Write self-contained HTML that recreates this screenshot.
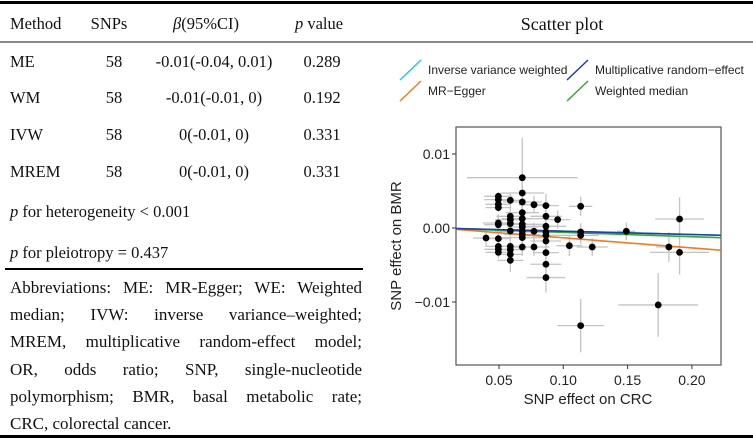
<!DOCTYPE html>
<html><head><meta charset="utf-8"><style>
body{margin:0;width:753px;height:439px;background:#fff;overflow:hidden;position:relative;font-family:"Liberation Serif",serif;}
.t{position:absolute;font-size:16.5px;color:#111;white-space:nowrap;line-height:1;}
.c{transform:translateX(-50%);}
.abbr{position:absolute;left:10px;width:352px;top:274px;font-size:17px;line-height:27.2px;color:#111;}
.abbr div{text-align:justify;text-align-last:justify;white-space:nowrap;}
.abbr div.last{text-align-last:left;}
</style></head><body>
<div style="position:absolute;left:0;top:1px;width:753px;height:3px;background:#000"></div>
<div style="position:absolute;left:0;top:41px;width:753px;height:2px;background:#888"></div>
<div style="position:absolute;left:0;top:435px;width:753px;height:3px;background:#000"></div>
<div style="position:absolute;left:5px;top:268px;width:358px;height:1.5px;background:#000"></div>

<div class="t" style="left:10px;top:16px">Method</div>
<div class="t c" style="left:109px;top:16px">SNPs</div>
<div class="t c" style="left:206px;top:16px"><i>β</i>(95%CI)</div>
<div class="t c" style="left:319px;top:16px"><i>p</i> value</div>
<div class="t c" style="left:562px;top:15px;font-size:18px">Scatter plot</div>

<div>
<div class="t" style="left:10px;top:54px">ME</div><div class="t c" style="left:114px;top:54px">58</div><div class="t c" style="left:214px;top:54px">-0.01(-0.04, 0.01)</div><div class="t c" style="left:322px;top:54px">0.289</div></div>
<div>
<div class="t" style="left:10px;top:90px">WM</div><div class="t c" style="left:114px;top:90px">58</div><div class="t c" style="left:214px;top:90px">-0.01(-0.01, 0)</div><div class="t c" style="left:322px;top:90px">0.192</div></div>
<div>
<div class="t" style="left:10px;top:127px">IVW</div><div class="t c" style="left:114px;top:127px">58</div><div class="t c" style="left:214px;top:127px">0(-0.01, 0)</div><div class="t c" style="left:322px;top:127px">0.331</div></div>
<div>
<div class="t" style="left:10px;top:164px">MREM</div><div class="t c" style="left:114px;top:164px">58</div><div class="t c" style="left:214px;top:164px">0(-0.01, 0)</div><div class="t c" style="left:322px;top:164px">0.331</div></div>
<div class="t" style="left:10px;top:204px"><i>p</i> for heterogeneity &lt; 0.001</div>
<div class="t" style="left:10px;top:245px"><i>p</i> for pleiotropy = 0.437</div>
<div class="abbr">
<div>Abbreviations: ME: MR-Egger; WE: Weighted</div>
<div>median; IVW: inverse variance–weighted;</div>
<div>MREM, multiplicative random-effect model;</div>
<div>OR, odds ratio; SNP, single-nucleotide</div>
<div>polymorphism; BMR, basal metabolic rate;</div>
<div class="last">CRC, colorectal cancer.</div>
</div>

<svg id="chart" width="753" height="439" style="position:absolute;left:0;top:0" font-family="Liberation Sans, sans-serif"></svg>
<script>
const xs=[0.0399,0.0495,0.0495,0.0495,0.0495,0.0495,0.0495,0.0495,0.0495,0.0495,0.0495,
0.0588,0.0588,0.0588,0.0588,0.0588,0.0588,0.0588,0.0588,0.0588,
0.0681,0.0681,0.0681,0.0681,0.0681,0.0681,0.0681,0.0681,0.0681,0.0681,0.0681,
0.0772,0.0772,0.0772,
0.0865,0.0865,0.0865,0.0865,0.0865,0.0865,0.0865,0.0865,0.0865,
0.0956,0.1047,0.1135,0.1135,0.1135,0.1135,0.1225,0.1490,0.1738,0.1821,0.1904,0.1904];
const ys=[-0.00135,0.00428,0.00383,0.0032,0.00275,0.00068,0.00045,-0.00144,-0.00248,-0.00288,-0.00329,
0.00374,0.00158,0.00113,0.00059,-0.0004,-0.00248,-0.00293,-0.00356,-0.00437,
0.0068,0.00473,0.00351,0.00207,0.00126,0.0005,0.00014,-0.00045,-0.0009,-0.0013,-0.00257,
0.00315,-0.00045,-0.00257,
0.00302,0.00158,0.00023,-0.00054,-0.00099,-0.00176,-0.00333,-0.0049,-0.0067,
0.00113,-0.00239,0.00293,-0.00054,-0.00099,-0.01319,-0.00257,-0.00045,-0.0104,-0.00257,0.00122,-0.00329];
const xerr=[0.01,0.011,0.011,0.01,0.01,0.012,0.011,0.01,0.01,0.011,0.01,
0.012,0.011,0.012,0.013,0.012,0.01,0.011,0.01,0.01,
0.043,0.017,0.015,0.013,0.016,0.02,0.012,0.018,0.014,0.016,0.012,
0.012,0.014,0.012,
0.01,0.012,0.016,0.02,0.015,0.012,0.01,0.012,0.015,
0.01,0.01,0.009,0.012,0.014,0.018,0.012,0.007,0.031,0.01,0.019,0.023];
const yerr=[0.0012,0.0006,0.0006,0.0006,0.0006,0.0012,0.001,0.001,0.0008,0.0008,0.0008,
0.001,0.0012,0.0012,0.0012,0.001,0.001,0.001,0.001,0.0016,
0.0054,0.0016,0.0014,0.0014,0.0014,0.0014,0.0012,0.0012,0.0012,0.0012,0.0012,
0.0012,0.0012,0.0012,
0.0016,0.0014,0.0016,0.0014,0.0014,0.0014,0.0014,0.0016,0.002,
0.0012,0.0014,0.0013,0.0012,0.0012,0.0036,0.0012,0.0012,0.0043,0.002,0.0029,0.003];
const lineNames=["Inverse variance weighted","MR-Egger","Multiplicative random-effect","Weighted median"];
const lineSlopes=[-0.0044,-0.01365,-0.0044,-0.0059];
const lineIntercepts=[0,0.00004,0,0];
const lineColors=["#1ec8f0","#f57a1e","#1c3faa","#33aa33"];
const xTicks=[0.05,0.10,0.15,0.20];
const yTicks=[0.01,0.00,-0.01];

const svg=document.getElementById('chart');
const NS='http://www.w3.org/2000/svg';
const L=456,R=721,T=127,B=365;
const xmin=0.0158,xmax=0.2225;
const X=v=>499+(v-0.05)/0.05*64.3;
const Y=v=>228-v/0.01*74;
function mk(t,a){const e=document.createElementNS(NS,t);for(const k in a)e.setAttribute(k,a[k]);svg.appendChild(e);return e;}
let e=mk('rect',{x:L,y:T,width:R-L,height:B-T,fill:'#fff',stroke:'#555','stroke-width':1.2});


const cl=mk('clipPath',{id:'cp'});
const cr=document.createElementNS(NS,'rect');cr.setAttribute('x',L);cr.setAttribute('y',T);cr.setAttribute('width',R-L);cr.setAttribute('height',B-T);cl.appendChild(cr);
const g=mk('g',{'clip-path':'url(#cp)'});
function add(t,a,p){const el=document.createElementNS(NS,t);for(const k in a)el.setAttribute(k,a[k]);p.appendChild(el);return el;}
for(let i=0;i<xs.length;i++){
 e=add('line',{x1:X(xs[i]-xerr[i]),x2:X(xs[i]+xerr[i]),y1:Y(ys[i]),y2:Y(ys[i]),stroke:'#c4c4c4','stroke-width':1.3},g);
 
 
 e=add('line',{x1:X(xs[i]),x2:X(xs[i]),y1:Y(ys[i]-yerr[i]),y2:Y(ys[i]+yerr[i]),stroke:'#c4c4c4','stroke-width':1.3},g);
 
 
}
const order=[1,3,0,2];
for(const i of order){
 e=add('line',{x1:X(xmin),x2:X(xmax),y1:Y(lineIntercepts[i]+lineSlopes[i]*xmin),y2:Y(lineIntercepts[i]+lineSlopes[i]*xmax),stroke:lineColors[i],'stroke-width':1.6},g);
 
 
}
for(let i=0;i<xs.length;i++){
 e=add('circle',{cx:X(xs[i]),cy:Y(ys[i]),r:3.4,fill:'#000'},g);
 
 
}
xTicks.forEach(v=>{
 e=mk('line',{x1:X(v),x2:X(v),y1:B,y2:B+4,stroke:'#333'});
 
 
 e=mk('text',{x:X(v),y:B+20,'text-anchor':'middle','font-size':14,fill:'#222'});e.textContent=v.toFixed(2);
 
 
});
yTicks.forEach(v=>{
 e=mk('line',{x1:L-4,x2:L,y1:Y(v),y2:Y(v),stroke:'#333'});
 
 
 e=mk('text',{x:L-6,y:Y(v)+5,'text-anchor':'end','font-size':14,fill:'#222'});e.textContent=(v<0?'\u2212':'')+Math.abs(v).toFixed(2);
 
 
});
e=mk('text',{x:588,y:404,'text-anchor':'middle','font-size':15,fill:'#222'});e.textContent='SNP effect on CRC';


e=mk('text',{x:0,y:0,'text-anchor':'middle','font-size':15,fill:'#222',transform:'translate(401,246) rotate(-90)'});e.textContent='SNP effect on BMR';


const legPos=[[400,70],[400,91],[567,70],[567,91]];
const legIdx=[0,1,2,3];
legIdx.forEach((i,k)=>{
 const [lx,ly]=legPos[k];
 e=mk('line',{x1:lx,y1:ly+10,x2:lx+21,y2:ly-10,stroke:lineColors[i],'stroke-width':1.5});
 
 
 e=mk('text',{x:lx+28,y:ly+4,'font-size':12,fill:'#222'});e.textContent=lineNames[i].replace('-','\u2212');
 
 
});
</script>
</body></html>
